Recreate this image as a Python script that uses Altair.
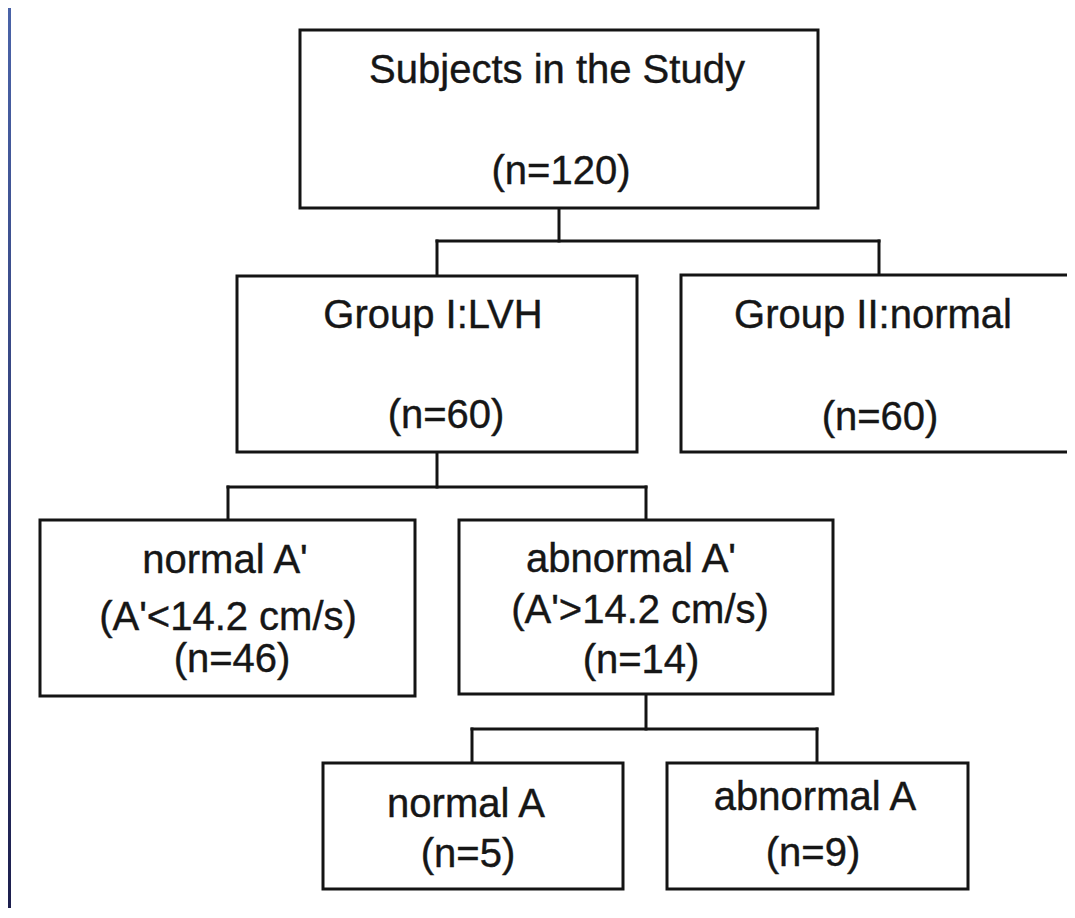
import altair as alt
import pandas as pd

# ---- content (text of the flowchart) ----
node_ids = ["root", "g1", "g2", "na", "aa", "nA", "aA"]
titles = ["Subjects in the Study", "Group I:LVH", "Group II:normal",
          "normal A'", "abnormal A'", "normal A", "abnormal A"]
criteria = ["", "", "", "(A'<14.2 cm/s)", "(A'>14.2 cm/s)", "", ""]
counts = [120, 60, 60, 46, 14, 5, 9]
parents = [None, "root", "root", "g1", "g1", "aa", "aa"]

# ---- layout (page pixel coordinates) ----
box_x0 = [300, 237, 681, 40, 459, 323, 667]
box_x1 = [818, 637, 1074, 415, 833, 623, 968]
box_y0 = [30, 276, 275, 520, 520, 763, 763]
box_y1 = [208, 452, 452, 696, 694, 889, 889]

title_x = [557, 433, 873, 225, 631, 466, 815]
title_y = [83, 328, 328, 573, 572, 817, 810]
crit_x = [0, 0, 0, 228, 640, 0, 0]
crit_y = [0, 0, 0, 630, 623, 0, 0]
count_x = [561, 446, 880, 232, 641, 468, 813]
count_y = [184, 428, 430, 672, 673, 867, 866]

# connector anchors: x of the stub on each box top / bottom, and bus heights
stub_x = [559, 437, 879, 228, 646, 472, 817]
bus_y = {"root": 241, "g1": 487, "aa": 729}

W, H = 1059, 900
X0, Y0 = 8, 8
xs = alt.Scale(domain=[X0, X0 + W], nice=False, zero=False)
ys = alt.Scale(domain=[Y0, Y0 + H], nice=False, zero=False, reverse=True)

boxes = pd.DataFrame({"id": node_ids, "x0": box_x0, "x1": box_x1,
                      "y0": box_y0, "y1": box_y1})

# connector segments
segs = []
for i, nid in enumerate(node_ids):
    kids = [j for j, p in enumerate(parents) if p == nid]
    if not kids:
        continue
    by = bus_y[nid]
    segs.append({"x": stub_x[i], "x2": stub_x[i], "y": box_y1[i], "y2": by})
    kx = [stub_x[j] for j in kids]
    segs.append({"x": min(kx), "x2": max(kx), "y": by, "y2": by})
    for j in kids:
        segs.append({"x": stub_x[j], "x2": stub_x[j], "y": by, "y2": box_y0[j]})
segs = pd.DataFrame(segs)

texts = []
for i in range(len(node_ids)):
    texts.append({"x": title_x[i], "y": title_y[i], "t": titles[i]})
    if criteria[i]:
        texts.append({"x": crit_x[i], "y": crit_y[i], "t": criteria[i]})
    texts.append({"x": count_x[i], "y": count_y[i], "t": f"(n={counts[i]})"})
texts = pd.DataFrame(texts)

strip = pd.DataFrame({"x0": [X0], "x1": [11], "y0": [Y0], "y1": [Y0 + H]})

ink = "#141414"

strip_layer = alt.Chart(strip).mark_rect(
    color={"gradient": "linear", "x1": 0, "y1": 0, "x2": 0, "y2": 1,
           "stops": [{"offset": 0, "color": "#4a63a8"},
                     {"offset": 1, "color": "#1d1f4e"}]}
).encode(
    x=alt.X("x0:Q", scale=xs, axis=None), x2="x1:Q",
    y=alt.Y("y0:Q", scale=ys, axis=None), y2="y1:Q")

box_layer = alt.Chart(boxes).mark_rect(
    fill="white", stroke=ink, strokeWidth=3
).encode(
    x=alt.X("x0:Q", scale=xs, axis=None), x2="x1:Q",
    y=alt.Y("y0:Q", scale=ys, axis=None), y2="y1:Q")

line_layer = alt.Chart(segs).mark_rule(
    color=ink, strokeWidth=3, strokeCap="square"
).encode(
    x=alt.X("x:Q", scale=xs, axis=None), x2="x2:Q",
    y=alt.Y("y:Q", scale=ys, axis=None), y2="y2:Q")

text_layer = alt.Chart(texts).mark_text(
    font="Liberation Sans", fontSize=40, color="#161616",
    stroke="#161616", strokeWidth=0.4,
    align="center", baseline="alphabetic"
).encode(
    x=alt.X("x:Q", scale=xs, axis=None),
    y=alt.Y("y:Q", scale=ys, axis=None),
    text="t:N")

chart = alt.layer(strip_layer, line_layer, box_layer, text_layer).properties(
    width=W, height=H,
    autosize=alt.AutoSizeParams(type="none"),
    padding=0,
    background="white",
).configure_view(strokeWidth=0)

chart.save("out.html", embed_options={"renderer": "svg", "actions": False})
